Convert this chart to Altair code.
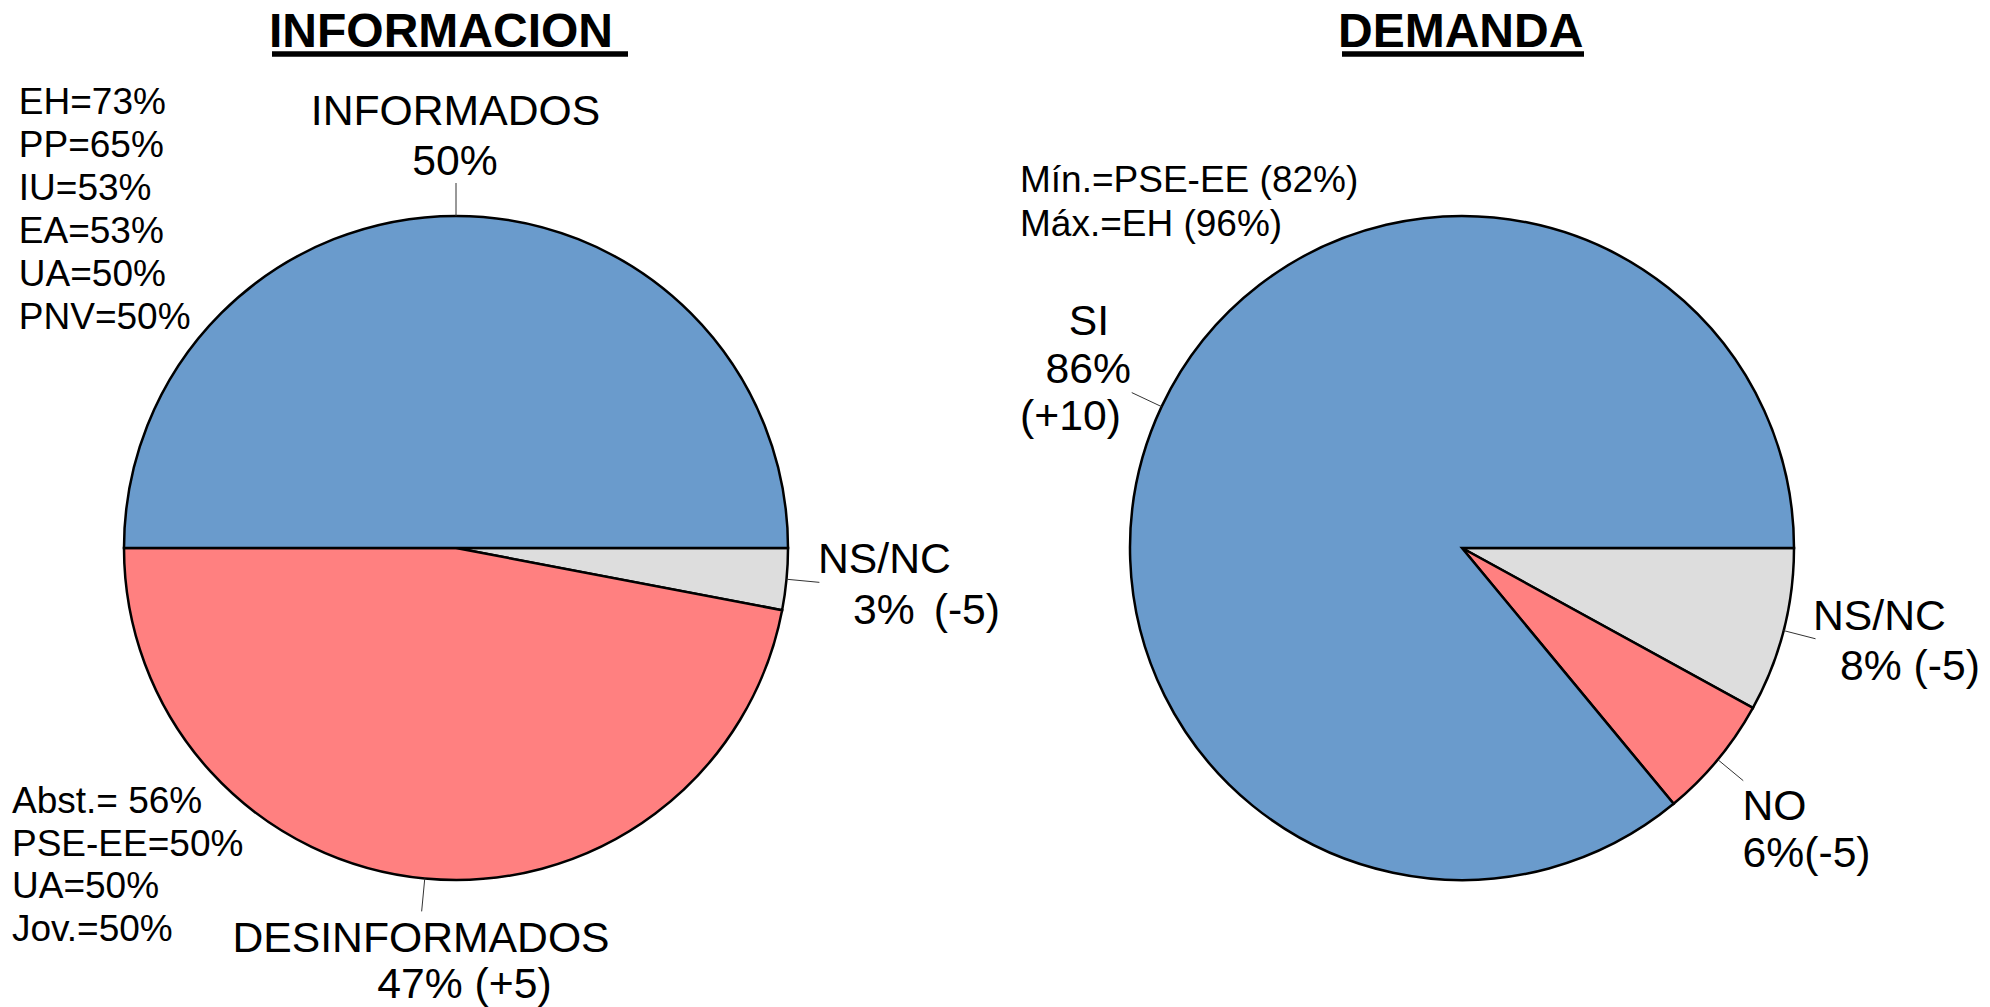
import math
import altair as alt
import pandas as pd

# ---------------- data ----------------
info_cats = ["NS/NC", "DESINFORMADOS", "INFORMADOS"]
info_vals = [3, 47, 50]
dem_cats = ["NS/NC", "NO", "SI"]
dem_vals = [8, 6, 86]

info_top_groups = ["EH", "PP", "IU", "EA", "UA", "PNV"]
info_top_pcts = [73, 65, 53, 53, 50, 50]
info_bot_groups = ["Abst.", "PSE-EE", "UA", "Jov."]
info_bot_pcts = [56, 50, 50, 50]
dem_min_group, dem_min_pct = "PSE-EE", 82
dem_max_group, dem_max_pct = "EH", 96

titles = ["INFORMACION", "DEMANDA"]

# ---------------- layout ----------------
OFF = 8
W, H = 1974, 999
R = 332
LEAD = 33
centers = {"info": (456, 548), "dem": (1462, 548)}
cat_domain = ["INFORMADOS", "DESINFORMADOS", "NS/NC", "SI", "NO"]
cat_range = ["#6A9BCC", "#FF8080", "#DDDDDD", "#6A9BCC", "#FF8080"]
FONT = "Liberation Sans"

xs = alt.Scale(domain=[OFF, OFF + W], nice=False, zero=False)
ys = alt.Scale(domain=[OFF, OFF + H], nice=False, zero=False, reverse=True)


def pie_df(cats, vals):
    return pd.DataFrame({"cat": cats, "v": vals, "order": list(range(len(cats)))})


def pie_layers(df, key):
    cx, cy = centers[key]
    arc = alt.Chart(df).mark_arc(
        outerRadius=R, stroke="black", strokeWidth=2.5
    ).encode(
        theta=alt.Theta("v:Q", stack=True,
                        scale=alt.Scale(range=[math.pi / 2, math.pi / 2 + 2 * math.pi])),
        order=alt.Order("order:Q"),
        color=alt.Color("cat:N", scale=alt.Scale(domain=cat_domain, range=cat_range), legend=None),
        x=alt.value(cx - OFF),
        y=alt.value(cy - OFF),
    )
    lead = alt.Chart(df).transform_window(
        cum="sum(v)", frame=[None, 0], sort=[alt.SortField("order")]
    ).transform_joinaggregate(total="sum(v)").transform_calculate(
        a="PI/2 + 2*PI*(datum.cum - datum.v/2)/datum.total"
    ).transform_calculate(
        x1=f"{cx} + {R}*sin(datum.a)",
        y1=f"{cy} - {R}*cos(datum.a)",
        x2=f"{cx} + {R + LEAD}*sin(datum.a)",
        y2=f"{cy} - {R + LEAD}*cos(datum.a)",
    ).mark_rule(color="#333333", strokeWidth=1).encode(
        x=alt.X("x1:Q", scale=xs, axis=None),
        y=alt.Y("y1:Q", scale=ys, axis=None),
        x2="x2:Q",
        y2="y2:Q",
    )
    return arc, lead


info_arc, info_lead = pie_layers(pie_df(info_cats, info_vals), "info")
dem_arc, dem_lead = pie_layers(pie_df(dem_cats, dem_vals), "dem")

# text rows: (text, x, baseline y) in page pixels
title_rows = [(titles[0], 269, 46.5), (titles[1], 1338, 46.5)]

small_rows = []
for i, (g, p) in enumerate(zip(info_top_groups, info_top_pcts)):
    small_rows.append((f"{g}={p}%", 18.8, 114 + 43 * i))
for i, (g, p) in enumerate(zip(info_bot_groups, info_bot_pcts)):
    sep = " " if g == "Abst." else ""
    small_rows.append((f"{g}={sep}{p}%", 12, 813 + 42.7 * i))
small_rows.append((f"Mín.={dem_min_group} ({dem_min_pct}%)", 1020, 192))
small_rows.append((f"Máx.={dem_max_group} ({dem_max_pct}%)", 1020, 236))

big_center_rows = [
    (info_cats[2], 455.5, 125),
    (f"{info_vals[2]}%", 455, 175),
    (info_cats[1], 421, 951.5),
    (f"{info_vals[1]}% (+5)", 464.5, 997.5),
    (dem_cats[2], 1089, 335),
    (f"{dem_vals[2]}%", 1088.3, 382.7),
    ("(+10)", 1070.5, 430),
]
big_left_rows = [
    (info_cats[0], 818, 573),
    (f"{info_vals[0]}%\u2006 (-5)", 853, 623.5),
    (dem_cats[0], 1813, 630),
    (f"{dem_vals[0]}% (-5)", 1840, 679.5),
    (dem_cats[1], 1742.5, 820),
    (f"{dem_vals[1]}%(-5)", 1742.5, 867),
]


def text_layer(rows, size, align, weight="normal"):
    df = pd.DataFrame(rows, columns=["t", "x", "y"])
    return alt.Chart(df).mark_text(
        font=FONT, fontSize=size, align=align, baseline="alphabetic",
        fontWeight=weight, color="black"
    ).encode(
        x=alt.X("x:Q", scale=xs, axis=None),
        y=alt.Y("y:Q", scale=ys, axis=None),
        text="t:N",
    )


underline_df = pd.DataFrame({"x": [272, 1342], "x2": [628, 1584], "y": [54, 54]})
underline = alt.Chart(underline_df).mark_rule(color="black", strokeWidth=5.5).encode(
    x=alt.X("x:Q", scale=xs, axis=None),
    x2="x2:Q",
    y=alt.Y("y:Q", scale=ys, axis=None),
)

chart = alt.layer(
    info_arc, dem_arc, info_lead, dem_lead, underline,
    text_layer(title_rows, 48, "left", "bold"),
    text_layer(small_rows, 37, "left"),
    text_layer(big_center_rows, 42.7, "center"),
    text_layer(big_left_rows, 42.7, "left"),
).resolve_scale(theta="independent").properties(
    width=W, height=H, padding=0, autosize=alt.AutoSizeParams(type="none"),
    background="white",
).configure_view(stroke=None)

chart.save("out.html", embed_options={"renderer": "svg", "actions": False})
